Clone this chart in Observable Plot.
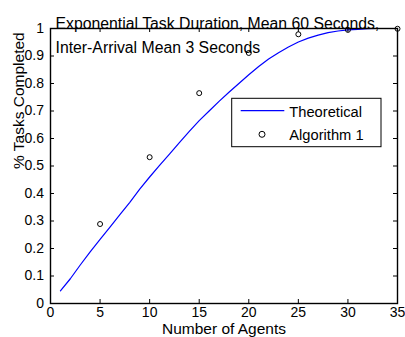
<!DOCTYPE html>
<html>
<head>
<meta charset="utf-8">
<script src="https://cdn.jsdelivr.net/npm/d3@7"></script>
<script src="https://cdn.jsdelivr.net/npm/@observablehq/plot@0.6"></script>
<style>
  html, body { margin: 0; padding: 0; background: #fff; }
  #chart svg { display: block; }
</style>
</head>
<body>
<div id="chart"></div>
<script>
// ---- Data ----
const titleLines = ["Exponential Task Duration, Mean 60 Seconds,", "Inter-Arrival Mean 3 Seconds"];
const xLabel = "Number of Agents";
const yLabel = "% Tasks Completed";
const seriesNames = ["Theoretical", "Algorithm 1"];

// Theoretical curve
const theoAgents = [1,2,3,4,5,6,7,8,9,10,11,12,13,14,15,16,17,18,19,20,21,22,23,24,25,26,27,28,29,30,31,32,33,34,35];
const theoValues = [0.046,0.090,0.140,0.188,0.233,0.278,0.323,0.368,0.416,0.460,0.502,0.543,0.585,0.626,0.665,0.700,0.735,0.768,0.800,0.832,0.862,0.889,0.912,0.933,0.951,0.965,0.976,0.985,0.991,0.995,0.997,0.999,1.0,1.0,1.0];

// Algorithm 1 points
const algAgents = [5,10,15,20,25,30,35];
const algValues = [0.289,0.532,0.765,0.911,0.979,0.995,0.999];

const xTicks = [0,5,10,15,20,25,30,35];
const xTickLabels = ["0","5","10","15","20","25","30","35"];
const yTicks = [0,0.1,0.2,0.3,0.4,0.5,0.6,0.7,0.8,0.9,1];
const yTickLabels = ["0","0.1","0.2","0.3","0.4","0.5","0.6","0.7","0.8","0.9","1"];

// ---- Layout ----
const W = 405, H = 337;
const mL = 50, mR = 8, mT = 28, mB = 34;
const pw = W - mL - mR, ph = H - mT - mB;
const tick = 4;
const narrow = "'Liberation Sans Narrow','Arial Narrow','Liberation Sans',Arial,sans-serif";
const sans = "'Liberation Sans',Arial,Helvetica,sans-serif";

const theo = theoAgents.map((a, i) => ({a, v: theoValues[i]}));
const alg = algAgents.map((a, i) => ({a, v: algValues[i]}));

const plot = Plot.plot({
  width: W, height: H,
  marginLeft: mL, marginRight: mR, marginTop: mT, marginBottom: mB,
  style: {fontFamily: narrow, fontSize: "14px", background: "#fff", color: "#000", overflow: "visible"},
  x: {domain: [0, 35]},
  y: {domain: [0, 1]},
  marks: [
    // curve and points
    Plot.line(theo, {x: "a", y: "v", stroke: "#0000ff", strokeWidth: 1.2}),
    Plot.dot(alg, {x: "a", y: "v", r: 2.5, stroke: "#000", strokeWidth: 1, fill: "none"}),
    // inward ticks on all four sides
    Plot.tickX(xTicks, {x: d => d, insetTop: ph - tick, stroke: "#000"}),
    Plot.tickX(xTicks, {x: d => d, insetBottom: ph - tick, stroke: "#000"}),
    Plot.tickY(yTicks, {y: d => d, insetRight: pw - tick, stroke: "#000"}),
    Plot.tickY(yTicks, {y: d => d, insetLeft: pw - tick, stroke: "#000"}),
    // tick labels
    Plot.axisX({ticks: xTicks, tickSize: 0, tickPadding: 4, label: null,
      tickFormat: d => xTickLabels[xTicks.indexOf(d)], fontFamily: narrow, fontSize: 14}),
    Plot.axisY({ticks: yTicks, tickSize: 0, tickPadding: 6.5, label: null,
      tickFormat: d => yTickLabels[yTicks.indexOf(d)], fontFamily: narrow, fontSize: 14}),
    Plot.frame({stroke: "#000", strokeWidth: 1.4}),
    // title (two lines, left aligned)
    Plot.text([titleLines.join("\n")], {frameAnchor: "top-left", textAnchor: "start", lineAnchor: "top",
      dx: 5, dy: -15.9, lineHeight: 1.49, fontSize: 15.8, fontFamily: sans, fill: "#000"}),
    // axis labels
    Plot.text([xLabel], {frameAnchor: "bottom", lineAnchor: "middle", dy: 25.3,
      fontSize: 15.5, fontFamily: sans, fill: "#000"}),
    Plot.text([yLabel], {frameAnchor: "left", lineAnchor: "middle", rotate: -90, dx: -31, dy: 3,
      fontSize: 15.5, fontFamily: sans, fill: "#000"})
  ]
});

document.getElementById("chart").appendChild(plot);

// ---- Legend (drawn into the plot's SVG) ----
const svg = d3.select(plot);
const lg = svg.append("g").attr("font-family", sans).attr("font-size", 14.7).attr("text-anchor", "start");
const bx = 231.7, by = 98.3, bw = 149.3, bh = 48.4;
lg.append("rect").attr("x", bx).attr("y", by).attr("width", bw).attr("height", bh)
  .attr("fill", "#fff").attr("stroke", "#000").attr("stroke-width", 1);
lg.append("line").attr("x1", bx + 9).attr("x2", bx + 52.6).attr("y1", by + 12.4).attr("y2", by + 12.4)
  .attr("stroke", "#0000ff").attr("stroke-width", 1.2);
lg.append("circle").attr("cx", bx + 30.3).attr("cy", by + 36).attr("r", 3)
  .attr("fill", "none").attr("stroke", "#000").attr("stroke-width", 1);
lg.append("text").attr("x", bx + 57.6).attr("y", by + 18.4).attr("fill", "#000").text(seriesNames[0]);
lg.append("text").attr("x", bx + 57.6).attr("y", by + 41.7).attr("fill", "#000").text(seriesNames[1]);
</script>
</body>
</html>
